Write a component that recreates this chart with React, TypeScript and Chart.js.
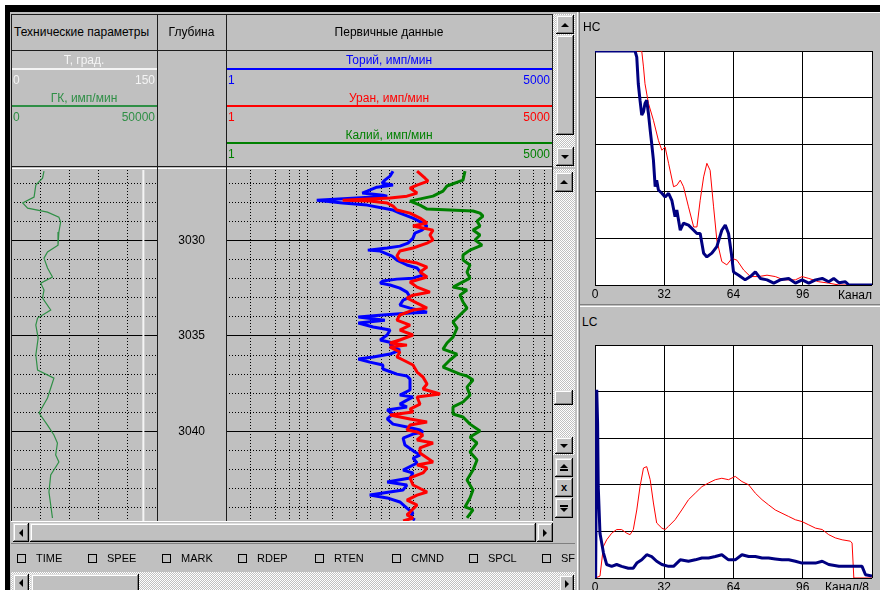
import React, { useEffect, useRef } from 'react';
import { Chart, registerables } from 'chart.js';

Chart.register(...registerables);

const FONT = '"Liberation Sans", Arial, Helvetica, sans-serif';
Chart.defaults.font.family = FONT;
Chart.defaults.font.size = 12;
Chart.defaults.color = '#000';

// ---------------- Well log: depth axis ----------------
const DEPTH_TOP = 3026.3;
const DEPTH_BOTTOM = 3045.38;
const depthGrid = [3027, 3028, 3029, 3030, 3031, 3032, 3033, 3034, 3035, 3036, 3037, 3038, 3039, 3040, 3041, 3042, 3043, 3044, 3045];
const depthLabels = [3030, 3035, 3040, 3045];

// ---------------- Технические параметры ----------------
const GK_MIN = 0;
const GK_MAX = 50000;
const gkGrid = [10000, 20000, 30000, 40000];
const T_MIN = 0;
const T_MAX = 150;
const gkDepth = [3026.36, 3026.73, 3027.09, 3027.72, 3028.03, 3028.3, 3028.51, 3028.77, 3029.03, 3029.55, 3030.24, 3030.6, 3030.92, 3031.44, 3031.91, 3032.23, 3032.59, 3033.01, 3033.64, 3034.06, 3034.43, 3035.11, 3036.0, 3036.79, 3037.21, 3037.73, 3038.25, 3039.04, 3039.67, 3040.19, 3040.61, 3041.24, 3041.61, 3042.29, 3043.18, 3043.86, 3044.54];
const gkValues = [11300, 10800, 8500, 7900, 4000, 5700, 12500, 16400, 17000, 16400, 16100, 12500, 11300, 12500, 14200, 10200, 11300, 10800, 13600, 9100, 8500, 9300, 8500, 9100, 14700, 13600, 12500, 9600, 12500, 14700, 15900, 15300, 16400, 13600, 13000, 13600, 14200];
const tDepth = [3026.3, 3045.38];
const tValues = [136, 136];

// ---------------- Первичные данные (log scale) ----------------
const LOG_MIN = 1;
const LOG_MAX = 10000;
const logGrid = [2, 4, 6, 8, 10, 20, 40, 60, 80, 100, 200, 400, 600, 800, 1000, 2000, 4000, 6000, 8000];

const thDepth = [3026.36, 3026.62, 3026.83, 3026.99, 3027.09, 3027.2, 3027.41, 3027.51, 3027.62, 3027.67, 3027.88, 3028.03, 3028.14, 3028.4, 3028.56, 3028.82, 3029.08, 3029.24, 3029.45, 3029.61, 3029.87, 3030.13, 3030.29, 3030.39, 3030.5, 3030.55, 3030.81, 3031.02, 3031.28, 3031.44, 3031.81, 3031.97, 3032.02, 3032.12, 3032.23, 3032.33, 3032.49, 3032.7, 3032.96, 3033.12, 3033.38, 3033.54, 3033.75, 3033.8, 3033.9, 3034.01, 3034.17, 3034.32, 3034.53, 3034.69, 3034.95, 3035.21, 3035.37, 3035.48, 3035.74, 3035.95, 3036.1, 3036.21, 3036.37, 3036.52, 3036.73, 3037.0, 3037.1, 3037.26, 3037.57, 3037.83, 3038.1, 3038.2, 3038.36, 3038.57, 3038.72, 3038.88, 3039.09, 3039.35, 3039.62, 3039.77, 3039.93, 3040.03, 3040.14, 3040.35, 3040.72, 3041.08, 3041.24, 3041.4, 3041.66, 3042.03, 3042.18, 3042.44, 3042.65, 3042.81, 3043.07, 3043.34, 3043.49, 3043.7, 3044.02, 3044.28, 3044.49, 3044.65];
const thValues = [112, 103, 89, 82, 112, 71, 54, 47, 84, 95, 13, 27, 54, 112, 136, 197, 261, 293, 254, 208, 197, 171, 136, 95, 55, 78, 109, 125, 166, 221, 261, 197, 125, 84, 78, 103, 136, 166, 181, 149, 136, 181, 293, 181, 84, 42, 89, 42, 64, 103, 95, 78, 112, 103, 136, 103, 64, 42, 58, 84, 84, 125, 166, 181, 181, 181, 136, 197, 166, 136, 166, 95, 112, 95, 112, 166, 240, 261, 197, 149, 157, 208, 240, 197, 221, 149, 197, 181, 95, 166, 149, 58, 95, 136, 166, 197, 181, 208];

const uDepth = [3026.36, 3026.73, 3026.88, 3027.09, 3027.25, 3027.51, 3027.67, 3027.77, 3027.88, 3027.93, 3028.03, 3028.19, 3028.4, 3028.56, 3028.82, 3029.08, 3029.24, 3029.34, 3029.45, 3029.71, 3029.97, 3030.13, 3030.39, 3030.55, 3030.81, 3031.02, 3031.18, 3031.39, 3031.65, 3031.91, 3032.17, 3032.44, 3032.7, 3032.86, 3033.01, 3033.28, 3033.54, 3033.64, 3033.9, 3034.17, 3034.43, 3034.69, 3034.95, 3035.21, 3035.37, 3035.48, 3035.58, 3035.84, 3036.1, 3036.26, 3036.52, 3036.89, 3037.15, 3037.52, 3037.78, 3038.04, 3038.2, 3038.57, 3038.83, 3038.99, 3039.14, 3039.35, 3039.51, 3039.67, 3039.93, 3040.03, 3040.19, 3040.45, 3040.61, 3040.87, 3041.14, 3041.61, 3041.76, 3041.92, 3042.18, 3042.44, 3042.81, 3043.18, 3043.34, 3043.6, 3043.86, 3044.23, 3044.38, 3044.54, 3044.7];
const uValues = [221, 277, 301, 221, 181, 221, 166, 103, 27, 58, 95, 112, 125, 181, 240, 293, 197, 261, 347, 318, 347, 293, 197, 136, 125, 136, 221, 293, 240, 293, 181, 221, 318, 197, 166, 221, 293, 197, 136, 125, 181, 136, 197, 136, 103, 166, 103, 136, 125, 149, 197, 221, 261, 293, 261, 423, 221, 240, 181, 197, 103, 181, 293, 181, 166, 221, 261, 221, 347, 240, 240, 347, 221, 293, 261, 181, 197, 293, 221, 166, 221, 181, 166, 197, 149];

const kDepth = [3026.36, 3026.83, 3027.14, 3027.41, 3027.67, 3027.93, 3028.14, 3028.35, 3028.4, 3028.45, 3028.56, 3028.72, 3028.98, 3029.24, 3029.45, 3029.71, 3029.97, 3030.24, 3030.5, 3030.76, 3031.02, 3031.28, 3031.65, 3031.97, 3032.44, 3032.59, 3032.86, 3033.22, 3033.54, 3033.9, 3034.27, 3034.59, 3035.06, 3035.37, 3035.69, 3035.95, 3036.26, 3036.63, 3037.0, 3037.1, 3037.31, 3037.68, 3038.1, 3038.46, 3038.72, 3039.09, 3039.25, 3039.62, 3039.98, 3040.3, 3040.61, 3041.08, 3041.5, 3042.03, 3042.55, 3043.07, 3043.49, 3043.96, 3044.12, 3044.54];
const kValues = [856, 809, 515, 460, 347, 181, 240, 293, 560, 1073, 1308, 1424, 1202, 1308, 1073, 1308, 1136, 1384, 986, 809, 809, 986, 906, 986, 610, 906, 743, 809, 906, 743, 610, 683, 610, 515, 460, 683, 560, 460, 743, 906, 1073, 906, 986, 809, 610, 610, 809, 986, 1308, 986, 1202, 986, 1202, 1073, 906, 1073, 986, 856, 1073, 906];

// ---------------- Spectra ----------------
const CH_MIN = 0;
const CH_MAX = 128;
const CH_STEP = 32;
const LEVEL_MIN = 0;
const LEVEL_MAX = 5;

const hcBlueCh = [0, 18.5, 19.3, 20, 20.8, 21.6, 22.4, 23.1, 23.9, 24.7, 25.5, 26.2, 27, 27.8, 28.5, 29.3, 30.9, 32.4, 34, 35.5, 37, 37.8, 39.4, 40.9, 43.2, 45.6, 47.1, 48.6, 50.2, 51.7, 54, 56.3, 58.6, 60.2, 61.7, 63, 64, 66.4, 69.4, 71.8, 74.1, 76.4, 79.5, 82.6, 85.6, 89.5, 92.6, 95.7, 98.8, 101.9, 105, 108, 110.3, 112.7, 115.7, 117.3, 128];
const hcBlueVal = [5, 5, 4.87, 4.3, 3.95, 3.63, 3.7, 3.88, 3.95, 3.66, 3.31, 3.02, 2.67, 2.1, 2.24, 2.03, 1.96, 1.88, 1.96, 1.81, 1.46, 1.6, 1.17, 1.32, 1.28, 1.17, 1.1, 1.1, 0.68, 0.6, 0.68, 0.82, 1.17, 1.28, 1.1, 0.68, 0.28, 0.21, 0.11, 0.18, 0.28, 0.14, 0.11, 0.04, 0.11, 0.14, 0.04, 0.11, 0.04, 0.11, 0.14, 0.07, 0.14, 0.05, 0.07, 0, 0];
const hcRedCh = [0, 21.6, 22.4, 23.1, 24.7, 27, 29.3, 30.9, 32.4, 34, 36.3, 37.8, 39.4, 40.9, 43.2, 45.6, 47.1, 48.6, 50.2, 51.7, 53.2, 54.8, 56.3, 58.6, 60.9, 63.3, 65.6, 68.7, 71.8, 75.6, 79.5, 83.3, 87.2, 92.6, 95.7, 98.8, 103.4, 108, 112.7, 128];
const hcRedVal = [5, 5, 4.66, 4.3, 3.88, 3.52, 3.09, 2.88, 2.95, 2.6, 2.1, 2.13, 2.24, 2.1, 1.67, 1.24, 1.24, 1.81, 2.31, 2.6, 2.45, 1.67, 0.96, 0.5, 0.43, 0.57, 0.53, 0.32, 0.18, 0.18, 0.21, 0.18, 0.11, 0.11, 0.18, 0.14, 0.07, 0.04, 0, 0];

const lcBlueCh = [0.3, 0.8, 1.2, 1.5, 2.3, 3.9, 5.4, 7.7, 10, 12.3, 15.4, 17.7, 19.3, 21.6, 23.9, 26.2, 28.5, 30.9, 34, 36.3, 39.4, 43.2, 46.3, 49.4, 52.5, 55.6, 58.6, 61.7, 64.8, 67.9, 71, 74.1, 77.2, 80.2, 83.3, 86.4, 89.5, 92.6, 95.7, 98.8, 101.9, 105, 108, 112.7, 115.7, 118.8, 123.4, 125, 128];
const lcBlueVal = [0, 4.04, 3.32, 1.96, 0.96, 0.54, 0.29, 0.25, 0.29, 0.25, 0.21, 0.21, 0.32, 0.39, 0.5, 0.46, 0.36, 0.29, 0.25, 0.25, 0.39, 0.36, 0.39, 0.43, 0.43, 0.46, 0.5, 0.39, 0.39, 0.5, 0.46, 0.46, 0.43, 0.43, 0.41, 0.39, 0.39, 0.36, 0.32, 0.32, 0.32, 0.36, 0.29, 0.25, 0.25, 0.25, 0.25, 0.07, 0.04];
const lcRedCh = [0, 2.3, 3.9, 5.4, 7.7, 10, 12.3, 14.7, 16.2, 17.7, 19.3, 20.8, 22.4, 23.9, 25.5, 27, 28.5, 30.9, 32.4, 34, 37, 40.1, 43.2, 46.3, 49.4, 52.5, 55.6, 58.6, 61.7, 64.8, 67.9, 71, 74.1, 77.2, 80.2, 83.3, 86.4, 89.5, 92.6, 95.7, 98.8, 101.9, 105, 108, 111.1, 114.2, 118, 118.8, 119.6, 128];
const lcRedVal = [0, 0.04, 0.68, 0.82, 0.96, 1.04, 1.04, 0.96, 0.93, 1.04, 1.46, 1.96, 2.36, 2.39, 2.11, 1.61, 1.18, 1.07, 1.04, 1.11, 1.25, 1.46, 1.68, 1.82, 1.96, 2.04, 2.11, 2.14, 2.11, 2.18, 2.07, 2.0, 1.82, 1.68, 1.57, 1.46, 1.39, 1.32, 1.25, 1.21, 1.14, 1.07, 1.04, 0.93, 0.86, 0.82, 0.79, 0.75, 0, 0];

const flagLabels = ['TIME', 'SPEE', 'MARK', 'RDEP', 'RTEN', 'CMND', 'SPCL', 'SF'];

// ---------------- styles ----------------
const GREY = '#c0c0c0';
const GK_COLOR = '#2f8f46';
const TH_COLOR = '#0000ff';
const U_COLOR = '#ff0000';
const K_COLOR = '#008000';
const NAVY = '#000080';

const pts = (ys: number[], xs: number[]) => ys.map((y, i) => ({ x: xs[i], y }));
const xy = (xs: number[], ys: number[]) => xs.map((x, i) => ({ x, y: ys[i] }));

const depthScale = (labels: boolean): any => ({
  type: 'linear',
  reverse: true,
  min: DEPTH_TOP,
  max: DEPTH_BOTTOM,
  afterBuildTicks: (s: any) => {
    s.ticks = depthGrid.map((v) => ({ value: v }));
  },
  ticks: labels
    ? {
        display: true,
        autoSkip: false,
        color: '#000',
        padding: 21,
        crossAlign: 'center',
        font: { size: 12, family: FONT },
        callback: (v: any) => (depthLabels.includes(Number(v)) ? String(v) : ''),
      }
    : { display: false },
  grid: { color: '#000', lineWidth: 1, drawTicks: false },
  border: {
    display: false,
    dash: (ctx: any) => (ctx.tick && depthLabels.includes(ctx.tick.value) ? [] : [1, 2]),
  },
  afterFit: (s: any) => {
    s.width = labels ? 69 : 0;
    s.paddingTop = 0;
    s.paddingBottom = 0;
  },
});

const baseOpts = {
  animation: false,
  responsive: false,
  maintainAspectRatio: false,
  events: [],
  layout: { padding: 0 },
  plugins: { legend: { display: false }, tooltip: { enabled: false } },
};

const makeGk = (): any => ({
  type: 'line',
  data: {
    datasets: [
      { label: 'ГК', data: pts(gkDepth, gkValues), xAxisID: 'x', yAxisID: 'y', borderColor: GK_COLOR, borderWidth: 1.2, pointRadius: 0, tension: 0 },
      { label: 'T', data: pts(tDepth, tValues), xAxisID: 'xT', yAxisID: 'y', borderColor: '#f4f4f4', borderWidth: 2, pointRadius: 0, tension: 0 },
    ],
  },
  options: {
    ...baseOpts,
    indexAxis: 'y',
    scales: {
      x: {
        type: 'linear', min: GK_MIN, max: GK_MAX,
        afterBuildTicks: (s: any) => { s.ticks = gkGrid.map((v) => ({ value: v })); },
        ticks: { display: false },
        grid: { color: '#000', drawTicks: false },
        border: { display: false, dash: [1, 2] },
        afterFit: (s: any) => { s.height = 0; },
      },
      xT: { type: 'linear', axis: 'x', min: T_MIN, max: T_MAX, display: false },
      y: depthScale(false),
    },
  },
});

const logSeries = (d: number[], v: number[], c: string) => ({
  data: pts(d, v), borderColor: c, borderWidth: 3, pointRadius: 0, tension: 0, borderJoinStyle: 'bevel',
});

const makePrimary = (): any => ({
  type: 'line',
  data: {
    datasets: [
      { label: 'Калий', ...logSeries(kDepth, kValues, K_COLOR) },
      { label: 'Уран', ...logSeries(uDepth, uValues, U_COLOR) },
      { label: 'Торий', ...logSeries(thDepth, thValues, TH_COLOR) },
    ],
  },
  options: {
    ...baseOpts,
    indexAxis: 'y',
    scales: {
      x: {
        type: 'logarithmic', min: LOG_MIN, max: LOG_MAX,
        afterBuildTicks: (s: any) => { s.ticks = logGrid.map((v) => ({ value: v })); },
        ticks: { display: false },
        grid: { color: '#000', drawTicks: false },
        border: { display: false, dash: [1, 2] },
        afterFit: (s: any) => { s.height = 0; },
      },
      y: depthScale(true),
    },
  },
});

const whitePlot = {
  id: 'whitePlot',
  beforeDraw(chart: any) {
    const { ctx, chartArea: a } = chart;
    ctx.save();
    ctx.fillStyle = '#ffffff';
    ctx.fillRect(a.left, a.top, a.right - a.left, a.bottom - a.top);
    ctx.restore();
  },
};

const makeSpectrum = (bc: number[], bv: number[], rc: number[], rv: number[], padTop: number, axisH: number) => (): any => ({
  type: 'line',
  data: {
    datasets: [
      { label: 'blue', data: xy(bc, bv), borderColor: NAVY, borderWidth: 3, pointRadius: 0, tension: 0, borderJoinStyle: 'bevel' },
      { label: 'red', data: xy(rc, rv), borderColor: U_COLOR, borderWidth: 1, pointRadius: 0, tension: 0 },
    ],
  },
  options: {
    ...baseOpts,
    layout: { padding: { left: 15, right: 8, top: padTop, bottom: 0 } },
    scales: {
      x: {
        type: 'linear', min: CH_MIN, max: CH_MAX,
        ticks: {
          stepSize: CH_STEP, autoSkip: false, maxRotation: 0, padding: 2, color: '#000',
          font: { size: 12, family: FONT },
          callback: (v: any) => (Number(v) === CH_MAX ? '' : String(v)),
        },
        grid: { color: '#000', lineWidth: 1, drawTicks: false },
        border: { display: false },
        afterFit: (s: any) => { s.height = axisH; s.paddingLeft = 0; s.paddingRight = 0; },
      },
      y: {
        type: 'linear', min: LEVEL_MIN, max: LEVEL_MAX,
        ticks: { display: false, stepSize: 1 },
        grid: { color: '#000', lineWidth: 1, drawTicks: false },
        border: { display: false },
        afterFit: (s: any) => { s.width = 0; },
      },
    },
  },
  plugins: [whitePlot],
});

const makeHc = makeSpectrum(hcBlueCh, hcBlueVal, hcRedCh, hcRedVal, 16, 15);
const makeLc = makeSpectrum(lcBlueCh, lcBlueVal, lcRedCh, lcRedVal, 15, 22);

function ChartBox({ left, top, width, height, make }: any) {
  const ref = useRef<HTMLCanvasElement | null>(null);
  useEffect(() => {
    if (!ref.current) return;
    const chart = new Chart(ref.current, make());
    return () => chart.destroy();
  }, []);
  return (
    <canvas ref={ref} width={width} height={height}
      style={{ position: 'absolute', left, top, width, height, display: 'block' }} />
  );
}

const S = (l: number, t: number, w: number, h: number): any => ({ position: 'absolute', left: l, top: t, width: w, height: h });

const Box = ({ l, t, w, h, bg, style }: any) => <div style={{ ...S(l, t, w, h), background: bg, ...style }} />;

const Txt = ({ l, t, w, color = '#000', align = 'left', size = 12, children }: any) => (
  <div style={{ position: 'absolute', left: l, top: t, width: w, color, textAlign: align, fontSize: size, lineHeight: '14px', whiteSpace: 'nowrap' }}>{children}</div>
);

const RAISED: any = {
  background: GREY,
  boxShadow: 'inset -1px -1px #000, inset 1px 1px #dfdfdf, inset -2px -2px #808080, inset 2px 2px #ffffff',
  boxSizing: 'border-box',
  display: 'flex',
  flexDirection: 'column',
  alignItems: 'center',
  justifyContent: 'center',
};
const CHECK: any = {
  backgroundImage: 'repeating-conic-gradient(#ffffff 0% 25%, #c0c0c0 0% 50%)',
  backgroundSize: '2px 2px',
};

const Tri = ({ dir }: any) => {
  const s = 4;
  const t = `${s}px solid transparent`;
  const b = `${s}px solid #000`;
  const st: any =
    dir === 'up' ? { borderLeft: t, borderRight: t, borderBottom: b }
    : dir === 'down' ? { borderLeft: t, borderRight: t, borderTop: b }
    : dir === 'left' ? { borderTop: t, borderBottom: t, borderRight: b }
    : { borderTop: t, borderBottom: t, borderLeft: b };
  return <div style={{ width: 0, height: 0, ...st }} />;
};
const Bar = () => <div style={{ width: 8, height: 2, background: '#000', margin: '1px 0' }} />;

const Btn = ({ l, t, w, h, children }: any) => <div style={{ ...S(l, t, w, h), ...RAISED }}>{children}</div>;

const flagX = [17, 88, 162, 238, 315, 392, 469, 542];

export default function App() {
  const line = '#1c1c1c';
  return (
    <div style={{ position: 'absolute', left: 0, top: 0, width: 880, height: 590, overflow: 'hidden', background: '#fff', fontFamily: FONT, fontSize: 12, color: '#000' }}>
      {/* frame */}
      <Box l={5} t={5} w={875} h={7} bg="#000" />
      <Box l={5} t={5} w={5} h={585} bg="#000" />
      <Box l={10} t={12} w={870} h={578} bg={GREY} />

      {/* charts */}
      <ChartBox left={11} top={170} width={146} height={364} make={makeGk} />
      <ChartBox left={157} top={170} width={395} height={364} make={makePrimary} />
      <ChartBox left={580} top={35} width={300} height={265} make={makeHc} />
      <ChartBox left={580} top={330} width={300} height={270} make={makeLc} />

      {/* header grid lines */}
      <Box l={11} t={14} w={542} h={1} bg={line} />
      <Box l={11} t={50} w={542} h={1} bg={line} />
      <Box l={11} t={166} w={542} h={1} bg={line} />
      <Box l={11} t={168} w={541} h={1} bg="#ffffff" />
      <Box l={11} t={14} w={1} h={507} bg={line} />
      <Box l={157} t={14} w={1} h={507} bg={line} />
      <Box l={226} t={14} w={1} h={507} bg={line} />
      <Box l={552} t={14} w={1} h={507} bg={line} />

      {/* header texts */}
      <Txt l={14} t={25}>Технические параметры</Txt>
      <Txt l={157} t={25} w={69} align="center">Глубина</Txt>
      <Txt l={226} t={25} w={326} align="center">Первичные данные</Txt>

      {/* tech params legend */}
      <Txt l={11} t={53} w={146} align="center" color="#f4f4f4">Т, град.</Txt>
      <Box l={12} t={68} w={145} h={2} bg="#f4f4f4" />
      <Txt l={13} t={73} color="#f4f4f4">0</Txt>
      <Txt l={11} t={73} w={144} align="right" color="#f4f4f4">150</Txt>
      <Txt l={11} t={91} w={146} align="center" color={GK_COLOR}>ГК, имп/мин</Txt>
      <Box l={12} t={105} w={145} h={2} bg={GK_COLOR} />
      <Txt l={13} t={110} color={GK_COLOR}>0</Txt>
      <Txt l={11} t={110} w={144} align="right" color={GK_COLOR}>50000</Txt>

      {/* primary legend */}
      <Txt l={226} t={53} w={326} align="center" color={TH_COLOR}>Торий, имп/мин</Txt>
      <Box l={227} t={68} w={325} h={2} bg={TH_COLOR} />
      <Txt l={228} t={73} color={TH_COLOR}>1</Txt>
      <Txt l={226} t={73} w={324} align="right" color={TH_COLOR}>5000</Txt>
      <Txt l={226} t={91} w={326} align="center" color={U_COLOR}>Уран, имп/мин</Txt>
      <Box l={227} t={105} w={325} h={2} bg={U_COLOR} />
      <Txt l={228} t={110} color={U_COLOR}>1</Txt>
      <Txt l={226} t={110} w={324} align="right" color={U_COLOR}>5000</Txt>
      <Txt l={226} t={128} w={326} align="center" color={K_COLOR}>Калий, имп/мин</Txt>
      <Box l={227} t={142} w={325} h={2} bg={K_COLOR} />
      <Txt l={228} t={147} color={K_COLOR}>1</Txt>
      <Txt l={226} t={147} w={324} align="right" color={K_COLOR}>5000</Txt>

      {/* header vertical scrollbar */}
      <Box l={553} t={14} w={22} h={153} bg={GREY} style={CHECK} />
      <Btn l={556} t={15} w={18} h={19}><Tri dir="up" /></Btn>
      <Btn l={556} t={35} w={18} h={100} />
      <Btn l={556} t={147} w={18} h={19}><Tri dir="down" /></Btn>

      {/* track vertical scrollbar */}
      <Box l={553} t={169} w={22} h={286} bg={GREY} style={CHECK} />
      <Box l={553} t={455} w={22} h={66} bg={GREY} />
      <Btn l={555} t={172} w={18} h={20}><Tri dir="up" /></Btn>
      <Btn l={554} t={390} w={19} h={15} />
      <Btn l={555} t={437} w={18} h={17}><Tri dir="down" /></Btn>
      <Btn l={555} t={458} w={18} h={19}><Tri dir="up" /><Bar /></Btn>
      <Btn l={555} t={478} w={18} h={19}><span style={{ fontSize: 11, fontWeight: 'bold', lineHeight: '11px' }}>x</span></Btn>
      <Btn l={555} t={498} w={18} h={20}><Bar /><Tri dir="down" /></Btn>

      {/* horizontal scrollbar */}
      <Box l={11} t={521} w={564} h={24} bg={GREY} />
      <Box l={11} t={521} w={542} h={1} bg="#ffffff" />
      <Btn l={13} t={523} w={16} h={19}><Tri dir="left" /></Btn>
      <Btn l={30} t={523} w={506} h={19} />
      <Btn l={537} t={523} w={16} h={19}><Tri dir="right" /></Btn>
      <Box l={11} t={543} w={564} h={1} bg="#808080" />

      {/* flags row */}
      {flagLabels.map((lab, i) => (
        <React.Fragment key={lab}>
          <div style={{ ...S(flagX[i], 554, 9, 9), border: '1px solid #000', boxSizing: 'border-box' }} />
          <Txt l={flagX[i] + 19} t={551} size={11}>{lab}</Txt>
        </React.Fragment>
      ))}

      {/* bottom scrollbar */}
      <Box l={11} t={572} w={564} h={18} bg={GREY} style={CHECK} />
      <Btn l={13} t={574} w={16} h={18}><Tri dir="left" /></Btn>
      <Btn l={31} t={574} w={108} h={18} />
      <Btn l={559} t={575} w={15} h={17}><Tri dir="right" /></Btn>

      {/* right panel chrome */}
      <Box l={577} t={12} w={1} h={578} bg="#ffffff" />
      <Box l={579} t={12} w={1} h={578} bg="#808080" />
      <Box l={580} t={12} w={300} h={1} bg="#ffffff" />
      <Box l={580} t={304} w={300} h={1} bg="#808080" />
      <Box l={580} t={306} w={300} h={1} bg="#ffffff" />
      <Txt l={583} t={20}>HC</Txt>
      <Txt l={582} t={315}>LC</Txt>
      <Txt l={838} t={288}>Канал</Txt>
      <Txt l={825} t={580}>Канал/8</Txt>
    </div>
  );
}
